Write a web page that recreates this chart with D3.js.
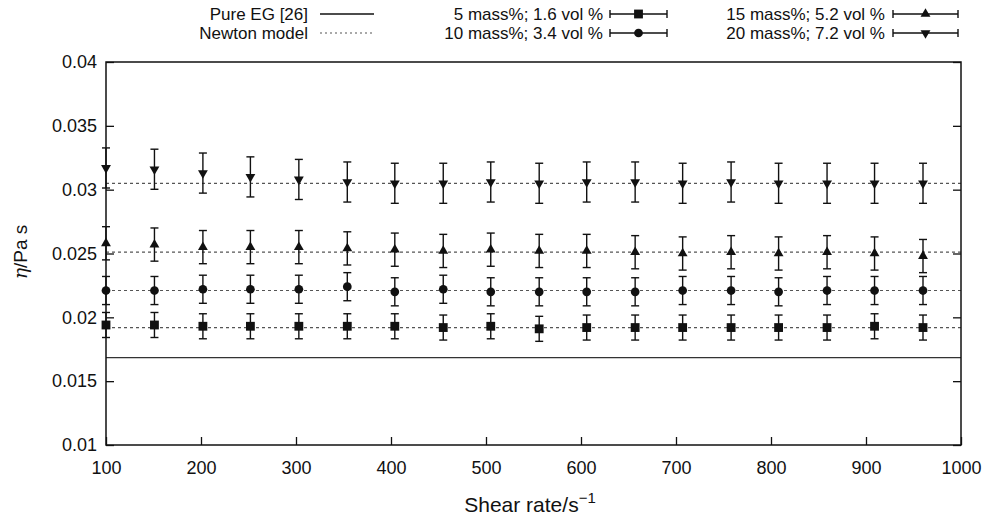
<!DOCTYPE html>
<html lang="en">
<head>
<meta charset="UTF-8">
<title>Viscosity vs shear rate</title>
<script src="https://cdn.jsdelivr.net/npm/d3@7"></script>
<style>
  body { margin: 0; background: #fff; }
  svg { font-family: "Liberation Sans", Arial, sans-serif; }
</style>
</head>
<body>
<script>
// shear rates (s^-1)
const shearRates = [100, 151, 202, 252, 303, 354, 404, 455, 505, 556, 606, 657, 707, 758, 808, 859, 909, 960];

// viscosity (Pa s) per nanofluid
const eta5 = [0.0194, 0.0194, 0.0193, 0.0193, 0.0193, 0.0193, 0.0193, 0.0192, 0.0193, 0.0191, 0.0192, 0.0192, 0.0192, 0.0192, 0.0192, 0.0192, 0.0193, 0.0192];
const eta10 = [0.0221, 0.0221, 0.0222, 0.0222, 0.0222, 0.0224, 0.0220, 0.0222, 0.0220, 0.0220, 0.0220, 0.0220, 0.0221, 0.0221, 0.0220, 0.0221, 0.0221, 0.0221];
const eta15 = [0.0258, 0.0257, 0.0255, 0.0255, 0.0255, 0.0254, 0.0253, 0.0252, 0.0253, 0.0252, 0.0252, 0.0251, 0.0250, 0.0251, 0.0250, 0.0251, 0.0250, 0.0248];
const eta20 = [0.0317, 0.0316, 0.0313, 0.0310, 0.0308, 0.0306, 0.0305, 0.0305, 0.0306, 0.0305, 0.0306, 0.0306, 0.0305, 0.0306, 0.0305, 0.0305, 0.0305, 0.0305];

// half-width of the error bars
const err5 = 0.00098, err10 = 0.0011, err15 = 0.0013, err20 = 0.00157;

// Newton model levels and pure EG reference
const newtonLevels = [0.0192, 0.0221, 0.0251, 0.0305];
const pureEG = 0.01685;

const seriesNames = ["5 mass%; 1.6 vol %", "10 mass%; 3.4 vol %", "15 mass%; 5.2 vol %", "20 mass%; 7.2 vol %"];
const xTicks = [100, 200, 300, 400, 500, 600, 700, 800, 900, 1000];
const yTicks = [0.01, 0.015, 0.02, 0.025, 0.03, 0.035, 0.04];

const W = 984, H = 517;
const pL = 106, pR = 961, pT = 62, pB = 445;
const ink = "#111";

const svg = d3.select("body").append("svg")
  .attr("width", W).attr("height", H)
  .attr("viewBox", `0 0 ${W} ${H}`);

const x = d3.scaleLinear().domain([100, 1000]).range([pL, pR]);
const y = d3.scaleLinear().domain([0.01, 0.04]).range([pB, pT]);

const series = [
  { name: seriesNames[0], vals: eta5, err: err5, shape: d3.symbolSquare, size: 78, rot: 0 },
  { name: seriesNames[1], vals: eta10, err: err10, shape: d3.symbolCircle, size: 60, rot: 0 },
  { name: seriesNames[2], vals: eta15, err: err15, shape: d3.symbolTriangle, size: 42, rot: 0 },
  { name: seriesNames[3], vals: eta20, err: err20, shape: d3.symbolTriangle, size: 42, rot: 180 }
];

// axes (ticks inward)
const fmt = d => String(+d.toFixed(3));
const gx = svg.append("g").attr("transform", `translate(0,${pB})`)
  .call(d3.axisBottom(x).tickValues(xTicks).tickFormat(d3.format("d")).tickSizeInner(-8).tickSizeOuter(0).tickPadding(16));
const gy = svg.append("g").attr("transform", `translate(${pL},0)`)
  .call(d3.axisLeft(y).tickValues(yTicks).tickFormat(fmt).tickSizeInner(-8).tickSizeOuter(0).tickPadding(9));
const gr = svg.append("g").attr("transform", `translate(${pR},0)`)
  .call(d3.axisRight(y).tickValues(yTicks).tickFormat("").tickSizeInner(-8).tickSizeOuter(0));
[gx, gy, gr].forEach(g => {
  g.select(".domain").remove();
  g.selectAll("line").attr("stroke", ink).attr("stroke-width", 1.3);
  g.selectAll("text").attr("fill", ink).style("font-size", "18px");
});

// Newton model lines
svg.append("g").selectAll("line").data(newtonLevels).enter().append("line")
  .attr("x1", x(100)).attr("x2", x(1000))
  .attr("y1", d => y(d)).attr("y2", d => y(d))
  .attr("stroke", "#555").attr("stroke-width", 1.2).attr("stroke-dasharray", "3,3");

// pure EG
svg.append("line")
  .attr("x1", x(100)).attr("x2", x(1000))
  .attr("y1", y(pureEG)).attr("y2", y(pureEG))
  .attr("stroke", "#333").attr("stroke-width", 1.3);

// error bars + markers
series.forEach(s => {
  const g = svg.append("g");
  const pts = shearRates.map((r, i) => ({ r: r, v: s.vals[i] }));
  const bars = g.selectAll("g.bar").data(pts).enter().append("g").attr("class", "bar");
  bars.append("line")
    .attr("x1", d => x(d.r)).attr("x2", d => x(d.r))
    .attr("y1", d => y(d.v - s.err)).attr("y2", d => y(d.v + s.err));
  bars.append("line")
    .attr("x1", d => x(d.r) - 4).attr("x2", d => x(d.r) + 4)
    .attr("y1", d => y(d.v + s.err)).attr("y2", d => y(d.v + s.err));
  bars.append("line")
    .attr("x1", d => x(d.r) - 4).attr("x2", d => x(d.r) + 4)
    .attr("y1", d => y(d.v - s.err)).attr("y2", d => y(d.v - s.err));
  bars.selectAll("line").attr("stroke", ink).attr("stroke-width", 1.4);
  g.selectAll("path").data(pts).enter().append("path")
    .attr("d", d3.symbol().type(s.shape).size(s.size))
    .attr("transform", d => `translate(${x(d.r)},${y(d.v)}) rotate(${s.rot})`)
    .attr("fill", ink);
});

// frame
svg.append("rect")
  .attr("x", pL).attr("y", pT)
  .attr("width", pR - pL).attr("height", pB - pT)
  .attr("fill", "none").attr("stroke", ink).attr("stroke-width", 1.5);

// axis titles
svg.append("text")
  .attr("x", 530).attr("y", 512)
  .attr("text-anchor", "middle").attr("fill", ink).style("font-size", "21px")
  .text("Shear rate/s")
  .append("tspan").attr("dy", -9).style("font-size", "15px").text("\u22121");

const yt = svg.append("text")
  .attr("transform", "translate(27,252) rotate(-90)")
  .attr("text-anchor", "middle").attr("fill", ink).style("font-size", "19px");
yt.append("tspan").style("font-style", "italic").style("font-family", "'DejaVu Serif', serif").text("\u03b7");
yt.append("tspan").text("/Pa s");

// legend
const rowY = [14, 33];
const lg = svg.append("g").style("font-size", "17px").attr("fill", ink);
const textEnds = [308, 603, 885];
const sampleStart = [320, 610, 893];
const sampleLen = [54, 57, 65];

lg.append("text").attr("x", textEnds[0]).attr("y", rowY[0] + 6).attr("text-anchor", "end").text("Pure EG [26]");
lg.append("line").attr("x1", sampleStart[0]).attr("x2", sampleStart[0] + sampleLen[0])
  .attr("y1", rowY[0]).attr("y2", rowY[0]).attr("stroke", ink).attr("stroke-width", 1.3);
lg.append("text").attr("x", textEnds[0]).attr("y", rowY[1] + 6).attr("text-anchor", "end").text("Newton model");
lg.append("line").attr("x1", sampleStart[0]).attr("x2", sampleStart[0] + sampleLen[0])
  .attr("y1", rowY[1]).attr("y2", rowY[1]).attr("stroke", "#555").attr("stroke-width", 1.2).attr("stroke-dasharray", "2,3");

series.forEach((s, i) => {
  const col = 1 + Math.floor(i / 2), row = i % 2;
  const yy = rowY[row], x0 = sampleStart[col], x1 = x0 + sampleLen[col];
  lg.append("text").attr("x", textEnds[col]).attr("y", yy + 6).attr("text-anchor", "end").text(s.name);
  const g = lg.append("g").attr("stroke", ink).attr("stroke-width", 1.4);
  g.append("line").attr("x1", x0).attr("x2", x1).attr("y1", yy).attr("y2", yy);
  g.append("line").attr("x1", x0).attr("x2", x0).attr("y1", yy - 4).attr("y2", yy + 4);
  g.append("line").attr("x1", x1).attr("x2", x1).attr("y1", yy - 4).attr("y2", yy + 4);
  lg.append("path").attr("d", d3.symbol().type(s.shape).size(s.size))
    .attr("transform", `translate(${(x0 + x1) / 2},${yy}) rotate(${s.rot})`).attr("fill", ink);
});
</script>
</body>
</html>
